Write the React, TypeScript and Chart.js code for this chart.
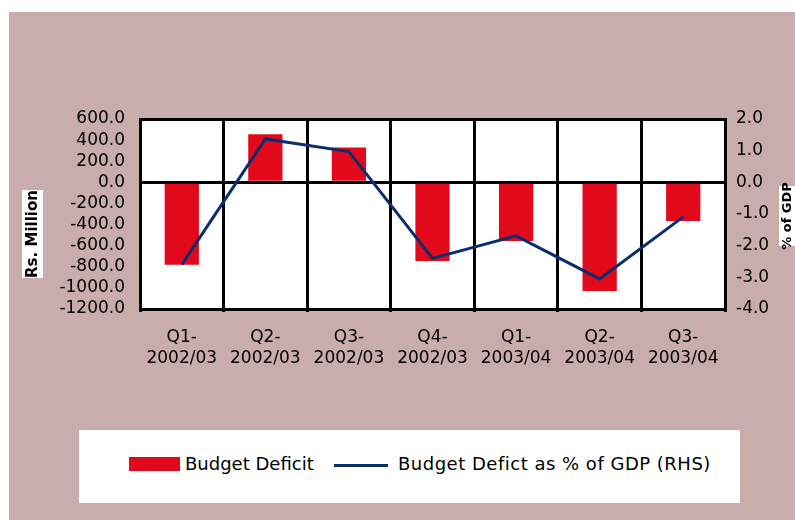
import React, { useEffect, useRef } from "react";
import { Chart, registerables } from "chart.js";

Chart.register(...registerables);

const categories = [
  ["Q1-", "2002/03"],
  ["Q2-", "2002/03"],
  ["Q3-", "2002/03"],
  ["Q4-", "2002/03"],
  ["Q1-", "2003/04"],
  ["Q2-", "2003/04"],
  ["Q3-", "2003/04"],
];
const budgetDeficit = [-780, 455, 330, -745, -556, -1030, -367];
const deficitPctGDP = [-2.6, 1.37, 0.97, -2.4, -1.69, -3.05, -1.09];
const leftTitle = "Rs. Million";
const rightTitle = "% of GDP";

const FONT = "'DejaVu Sans', sans-serif";

const bgPlugin = {
  id: "plotBg",
  beforeDraw(chart: any) {
    const { ctx, chartArea } = chart;
    ctx.save();
    ctx.fillStyle = "#fff";
    ctx.fillRect(chartArea.left, chartArea.top, chartArea.right - chartArea.left, chartArea.bottom - chartArea.top);
    ctx.restore();
  },
};

const titlePlugin = {
  id: "axisTitles",
  afterDraw(chart: any) {
    const ctx = chart.ctx;
    ctx.save();
    ctx.fillStyle = "#fff";
    ctx.fillRect(13, 178, 21, 88);
    ctx.translate(24, 222);
    ctx.rotate(-Math.PI / 2);
    ctx.fillStyle = "#000";
    ctx.font = `bold 15px ${FONT}`;
    ctx.textAlign = "center";
    ctx.textBaseline = "middle";
    ctx.fillText(leftTitle, 0, 0);
    ctx.restore();
    ctx.save();
    ctx.fillStyle = "#fff";
    ctx.fillRect(770, 174, 16, 60);
    ctx.translate(779, 204);
    ctx.rotate(-Math.PI / 2);
    ctx.fillStyle = "#000";
    ctx.font = `bold 13px ${FONT}`;
    ctx.textAlign = "center";
    ctx.textBaseline = "middle";
    ctx.fillText(rightTitle, 0, 0);
    ctx.restore();
  },
};

export default function App() {
  const ref = useRef<HTMLCanvasElement>(null);
  useEffect(() => {
    if (!ref.current) return;
    const chart = new Chart(ref.current, {
      type: "bar",
      data: {
        labels: categories,
        datasets: [
          {
            type: "line",
            label: "Budget Defict as % of GDP (RHS)",
            data: deficitPctGDP,
            yAxisID: "y1",
            borderColor: "#0B2D6E",
            backgroundColor: "#0B2D6E",
            borderWidth: 3,
            pointRadius: 0,
            tension: 0,
            order: 0,
          } as any,
          {
            type: "bar",
            label: "Budget Deficit",
            data: budgetDeficit,
            yAxisID: "y",
            backgroundColor: "#E20A1A",
            categoryPercentage: 1,
            barPercentage: 0.41,
            order: 1,
          },
        ],
      },
      options: {
        animation: false,
        responsive: false,
        maintainAspectRatio: false,
        layout: { padding: { top: 107, left: 0, right: 0, bottom: 0 } },
        plugins: { legend: { display: false }, tooltip: { enabled: false } },
        scales: {
          x: {
            offset: true,
            grid: {
              offset: true,
              color: "#000",
              lineWidth: 3,
              drawTicks: true,
              tickLength: 3,
            },
            border: { display: false },
            ticks: {
              color: "#000",
              font: { family: FONT, size: 17, lineHeight: 1.25 },
              padding: 15,
              maxRotation: 0,
              autoSkip: false,
            },
            afterFit(scale: any) {
              scale.height = 211;
            },
          },
          y: {
            position: "left",
            min: -1200,
            max: 600,
            ticks: {
              stepSize: 200,
              autoSkip: false,
              color: "#000",
              font: { family: FONT, size: 17 },
              padding: 15,
              callback: (v: any) => Number(v).toFixed(1),
            },
            grid: {
              drawTicks: false,
              lineWidth: 3,
              color: (c: any) =>
                c.tick && (c.tick.value === 0 || c.tick.value === 600 || c.tick.value === -1200)
                  ? "#000"
                  : "rgba(0,0,0,0)",
            },
            border: { display: true, color: "#000", width: 3 },
            afterFit(scale: any) {
              scale.width = 131;
            },
          },
          y1: {
            position: "right",
            min: -4,
            max: 2,
            ticks: {
              stepSize: 1,
              autoSkip: false,
              color: "#000",
              font: { family: FONT, size: 17 },
              padding: 11,
              callback: (v: any) => Number(v).toFixed(1),
            },
            grid: { display: false, drawTicks: false },
            border: { display: true, color: "#000", width: 3 },
            afterFit(scale: any) {
              scale.width = 70;
            },
          },
        },
      },
      plugins: [bgPlugin, titlePlugin],
    });
    return () => chart.destroy();
  }, []);

  return (
    <div
      style={{
        position: "absolute",
        left: 9,
        top: 12,
        width: 786,
        height: 508,
        background: "#C9ADAD",
      }}
    >
      <canvas ref={ref} width={786} height={508} style={{ display: "block" }} />
      <div
        style={{
          position: "absolute",
          left: 70,
          top: 418,
          width: 661,
          height: 73,
          background: "#fff",
          fontFamily: FONT,
          fontSize: 18,
          color: "#000",
        }}
      >
        <div style={{ position: "absolute", left: 50, top: 27, width: 51, height: 14, background: "#E20A1A" }} />
        <div style={{ position: "absolute", left: 106, top: 23, lineHeight: "22px", whiteSpace: "nowrap" }}>Budget Deficit</div>
        <div style={{ position: "absolute", left: 255, top: 34, width: 54, height: 3, background: "#0B2D6E" }} />
        <div style={{ position: "absolute", left: 319, top: 23, lineHeight: "22px", whiteSpace: "nowrap", letterSpacing: "0.5px" }}>
          Budget Defict as % of GDP (RHS)
        </div>
      </div>
    </div>
  );
}
